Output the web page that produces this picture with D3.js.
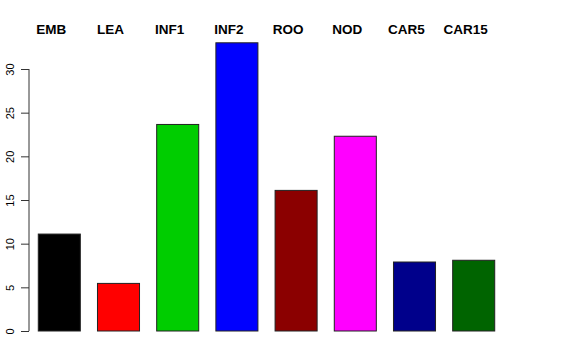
<!DOCTYPE html>
<html>
<head>
<meta charset="utf-8">
<script src="https://cdn.jsdelivr.net/npm/d3@7"></script>
<style>
  body { margin: 0; background: #fff; }
  svg { display: block; font-family: "Liberation Sans", Arial, sans-serif; }
</style>
</head>
<body>
<script>
const categories = ["EMB", "LEA", "INF1", "INF2", "ROO", "NOD", "CAR5", "CAR15"];
const values = [11.1, 5.45, 23.65, 33.0, 16.1, 22.3, 7.9, 8.1];
const colors = ["#000000", "#ff0000", "#00cd00", "#0000ff", "#8b0000", "#ff00ff", "#00008b", "#006400"];
const yTicks = [0, 5, 10, 15, 20, 25, 30];

const width = 576, height = 360;

const svg = d3.select("body").append("svg")
  .attr("width", width)
  .attr("height", height);

// x band scale, bars ~42px wide on a ~59px step
const x = d3.scaleBand()
  .domain(categories)
  .range([29.7, 503.3])
  .paddingInner(0.29)
  .paddingOuter(0.145);

const y = d3.scaleLinear()
  .domain([0, 30])
  .range([331, 69]);

// bars
svg.append("g")
  .selectAll("rect")
  .data(categories)
  .join("rect")
  .attr("x", d => x(d))
  .attr("y", (d, i) => y(values[i]))
  .attr("width", x.bandwidth())
  .attr("height", (d, i) => y(0) - y(values[i]))
  .attr("fill", (d, i) => colors[i])
  .attr("stroke", "#222")
  .attr("stroke-width", 1);

// y axis, R style
const axis = svg.append("g")
  .attr("transform", "translate(29,0)")
  .call(d3.axisLeft(y).tickValues(yTicks).tickSize(8).tickPadding(0));

axis.select(".domain")
  .attr("d", "M0," + y(0) + "V" + y(30))
  .attr("stroke", "#333");
axis.selectAll(".tick line").attr("stroke", "#333");
axis.selectAll(".tick text")
  .attr("x", null).attr("dy", null)
  .attr("transform", "translate(-15,0) rotate(-90)")
  .attr("text-anchor", "middle")
  .style("font-size", "11px")
  .attr("fill", "#000");

// category labels on top
svg.append("g")
  .selectAll("text")
  .data(categories)
  .join("text")
  .attr("x", d => x(d) + x.bandwidth() / 2 - 8)
  .attr("y", 34)
  .attr("text-anchor", "middle")
  .style("font-size", "13.5px")
  .style("font-weight", "bold")
  .text(d => d);
</script>
</body>
</html>
